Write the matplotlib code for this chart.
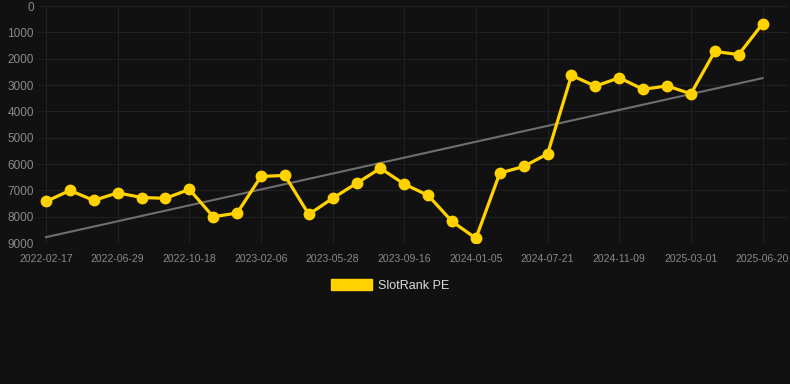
import numpy as np
import matplotlib
matplotlib.use("Agg")
import matplotlib.pyplot as plt
from matplotlib.patches import Patch

# SlotRank PE ranking (lower = better, axis inverted)
rank = [7420, 7000, 7380, 7090, 7270, 7300, 6960, 8000, 7860, 6470,
        6430, 7910, 7300, 6730, 6160, 6760, 7190, 8180, 8820, 6340,
        6090, 5610, 2630, 3040, 2720, 3160, 3030, 3330, 1720, 1840, 670]
tick_labels = ["2022-02-17", "2022-06-29", "2022-10-18", "2023-02-06",
               "2023-05-28", "2023-09-16", "2024-01-05", "2024-07-21",
               "2024-11-09", "2025-03-01", "2025-06-20"]
y_ticks = [0, 1000, 2000, 3000, 4000, 5000, 6000, 7000, 8000, 9000]

plt.rcParams["font.family"] = ["Liberation Sans", "DejaVu Sans"]

bg = "#111111"
yellow = "#ffd200"

x = np.arange(len(rank))
k, b = np.polyfit(x, rank, 1)
trend = k * x + b

fig = plt.figure(figsize=(7.9, 3.84), dpi=100, facecolor=bg)
ax = fig.add_axes([0.048, 0.367, 0.949, 0.617])
ax.set_facecolor(bg)

ax.plot(x, trend, color="#6e6e6e", lw=1.5, zorder=2)
ax.plot(x, rank, color=yellow, lw=2.3, marker="o", markersize=7.5, zorder=3)

ax.set_ylim(9000, 0)
ax.set_xlim(-0.34, 31.05)
ax.set_yticks(y_ticks)
ax.set_xticks(x[::3])
ax.set_xticklabels(tick_labels)

ax.grid(True, color="#202020", lw=0.8)
ax.set_axisbelow(True)
for s in ax.spines.values():
    s.set_visible(False)
ax.tick_params(axis="y", length=0, pad=3, labelsize=8.5, labelcolor="#8a8a8a")
ax.tick_params(axis="x", length=0, pad=8, labelsize=7.5, labelcolor="#8a8a8a")

fig.legend(handles=[Patch(color=yellow, label="SlotRank PE")],
           loc="center", bbox_to_anchor=(0.494, 0.256), frameon=False,
           handlelength=3.3, handleheight=0.9, handletextpad=0.5,
           fontsize=9, labelcolor="#dddddd")

fig.savefig("out.png", dpi=100, facecolor=bg)
